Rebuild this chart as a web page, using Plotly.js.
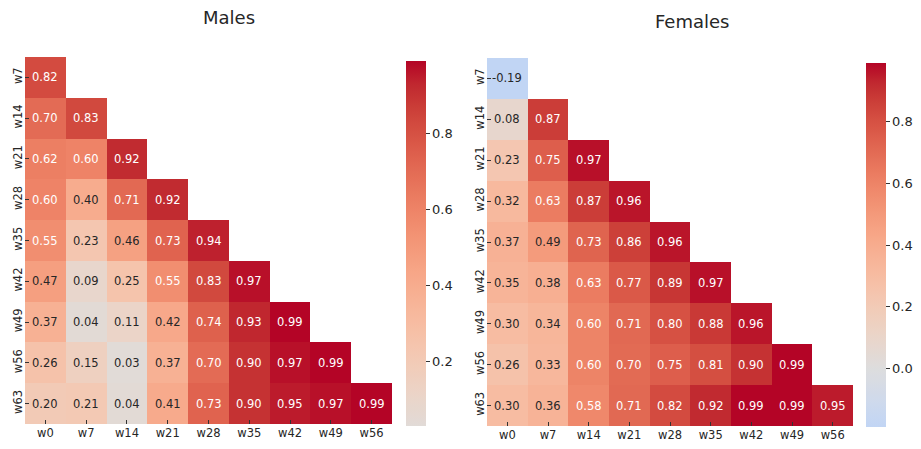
<!DOCTYPE html>
<html><head><meta charset="utf-8">
<script src="https://cdn.plot.ly/plotly-3.0.1.min.js"></script>
<style>html,body{margin:0;padding:0;background:#fff}#chart{width:921px;height:449px}</style>
</head><body><div id="chart"></div>
<script>
// ---- data ----
const xLabels = ['w0','w7','w14','w21','w28','w35','w42','w49','w56'];
const yLabels = ['w7','w14','w21','w28','w35','w42','w49','w56','w63'];
const malesCorr = [
  [0.82],
  [0.70,0.83],
  [0.62,0.60,0.92],
  [0.60,0.40,0.71,0.92],
  [0.55,0.23,0.46,0.73,0.94],
  [0.47,0.09,0.25,0.55,0.83,0.97],
  [0.37,0.04,0.11,0.42,0.74,0.93,0.99],
  [0.26,0.15,0.03,0.37,0.70,0.90,0.97,0.99],
  [0.20,0.21,0.04,0.41,0.73,0.90,0.95,0.97,0.99]
];
const femalesCorr = [
  [-0.19],
  [0.08,0.87],
  [0.23,0.75,0.97],
  [0.32,0.63,0.87,0.96],
  [0.37,0.49,0.73,0.86,0.96],
  [0.35,0.38,0.63,0.77,0.89,0.97],
  [0.30,0.34,0.60,0.71,0.80,0.88,0.96],
  [0.26,0.33,0.60,0.70,0.75,0.81,0.90,0.99],
  [0.30,0.36,0.58,0.71,0.82,0.92,0.99,0.99,0.95]
];
const panelTitles = ['Males','Females'];

// ---- coolwarm colormap (Moreland diverging) ----
const coolwarm = [
 [59,76,192],[68,90,204],[77,104,215],[87,117,225],[98,130,234],[108,142,241],
 [119,154,247],[130,165,251],[141,176,254],[152,185,255],[163,194,255],[174,201,253],
 [184,208,249],[194,213,244],[204,217,238],[213,219,230],[221,221,221],[229,216,209],
 [236,211,197],[241,204,185],[245,196,173],[247,187,160],[247,177,148],[247,166,135],
 [244,154,123],[241,141,111],[236,127,99],[229,112,88],[222,96,77],[213,80,66],
 [203,62,56],[192,40,47],[180,4,38]
];
function cmap(t){
  t=Math.max(0,Math.min(1,t));
  const f=t*(coolwarm.length-1), i=Math.min(Math.floor(f),coolwarm.length-2), r=f-i;
  return coolwarm[i].map((c,k)=>c+(coolwarm[i+1][k]-c)*r);
}
function rgbStr(c){return 'rgb('+c.map(v=>Math.round(v)).join(',')+')';}
function lum(c){
  const l=c.map(v=>{v/=255;return v<=0.03928?v/12.92:Math.pow((v+0.055)/1.055,2.4);});
  return 0.2126*l[0]+0.7152*l[1]+0.0722*l[2];
}

const traces=[], annotations=[];
[malesCorr,femalesCorr].forEach((tri,p)=>{
  const z=yLabels.map((_,i)=>xLabels.map((_,j)=>j<=i?tri[i][j]:null));
  const flat=tri.flat();
  const vmin=Math.min(...flat), vmax=Math.max(...flat), center=0;
  const vr=Math.max(vmax-center,center-vmin);
  const lo=(vmin-center+vr)/(2*vr), hi=(vmax-center+vr)/(2*vr);
  const N=64, cs=[];
  for(let k=0;k<=N;k++){const t=k/N;cs.push([t,rgbStr(cmap(lo+t*(hi-lo)))]);}
  const sfx=p===0?'':'2';
  traces.push({
    type:'heatmap', x:xLabels, y:yLabels, z:z, xaxis:'x'+sfx, yaxis:'y'+sfx,
    colorscale:cs, zmin:vmin, zmax:vmax, hoverinfo:'skip',
    colorbar:{
      x:p===0?406/921:866/921, xanchor:'left', xpad:0, ypad:0,
      y:p===0?1-243.5/449:1-245/449, yanchor:'middle',
      len:p===0?365:364, lenmode:'pixels', thickness:20, thicknessmode:'pixels',
      outlinewidth:0, ticks:'outside', ticklen:4, tickcolor:'#333',
      tickvals:p===0?[0.2,0.4,0.6,0.8]:[0,0.2,0.4,0.6,0.8], tickformat:'.1f',
      tickfont:{size:13,color:'#262626',family:'DejaVu Sans'}
    }
  });
  yLabels.forEach((yl,i)=>{xLabels.forEach((xl,j)=>{
    if(j>i) return;
    const v=tri[i][j];
    const col=cmap(lo+(v-vmin)/(vmax-vmin)*(hi-lo));
    annotations.push({xref:'x'+sfx, yref:'y'+sfx, x:xl, y:yl, text:v.toFixed(2), showarrow:false,
      font:{size:11.5, family:'DejaVu Sans', color:lum(col)>0.408?'#262626':'#ffffff'}});
  });});
  annotations.push({xref:'paper', yref:'paper', x:p===0?229/921:692/921, y:p===0?1-18/449:1-21/449,
    xanchor:'center', yanchor:'middle', text:panelTitles[p], showarrow:false,
    font:{size:18,family:'DejaVu Sans',color:'#262626'}});
});

function xa(dom){return {domain:dom, type:'category', showgrid:false, zeroline:false, showline:false,
  ticks:'inside', ticklen:4, tickcolor:'#333', ticklabelstandoff:0,
  tickfont:{size:11.5,color:'#262626',family:'DejaVu Sans'}, fixedrange:true};}
function ya(dom,anchor){return {domain:dom, type:'category', autorange:'reversed', showgrid:false, zeroline:false, showline:false,
  ticks:'inside', ticklen:4, tickcolor:'#333', tickangle:-90, anchor:anchor, ticklabelstandoff:0,
  tickfont:{size:11.5,color:'#262626',family:'DejaVu Sans'}, fixedrange:true};}

const layout={
  width:921, height:449, margin:{l:0,r:0,t:0,b:0}, paper_bgcolor:'#fff', plot_bgcolor:'#fff',
  font:{family:'DejaVu Sans'}, showlegend:false,
  xaxis:Object.assign(xa([25/921,392/921]),{anchor:'y'}),
  yaxis:ya([1-424/449,1-57/449],'x'),
  xaxis2:Object.assign(xa([487/921,853/921]),{anchor:'y2'}),
  yaxis2:ya([1-426/449,1-58/449],'x2'),
  annotations:annotations
};
Plotly.newPlot('chart',traces,layout,{displayModeBar:false,staticPlot:true});
</script></body></html>
